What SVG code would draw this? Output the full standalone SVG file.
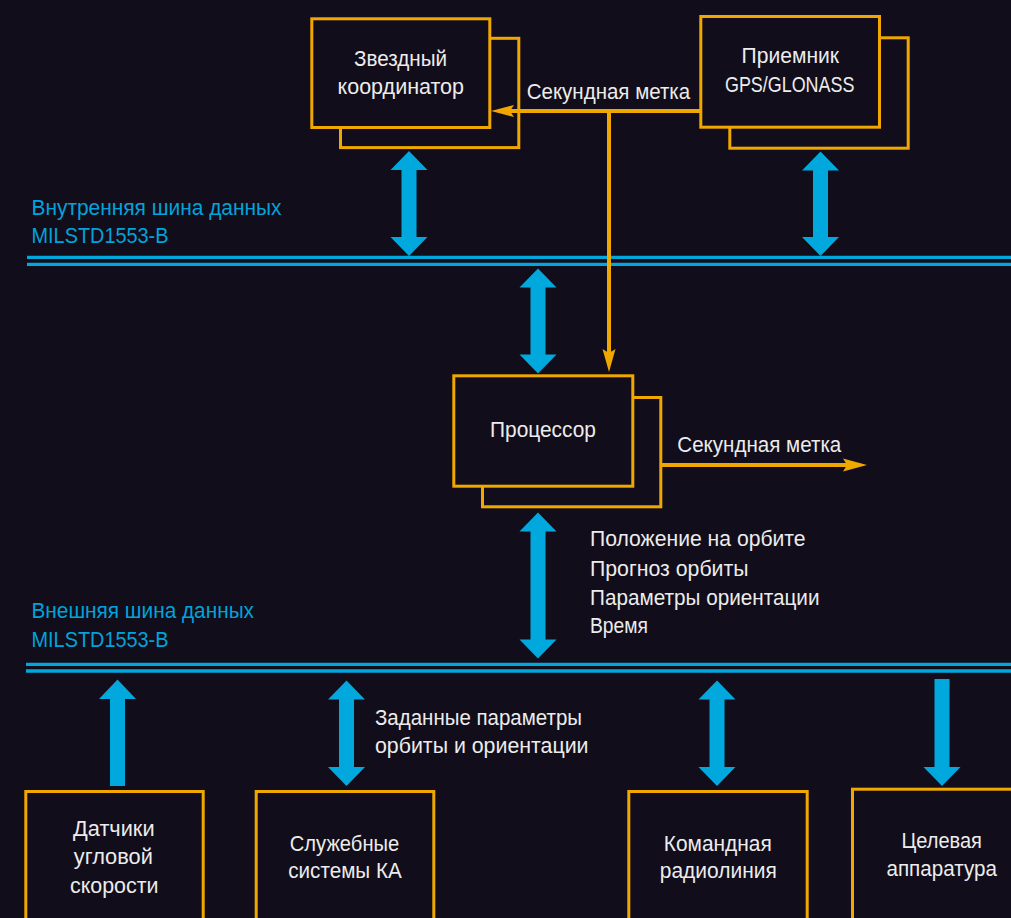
<svg xmlns="http://www.w3.org/2000/svg" width="1011" height="918" viewBox="0 0 1011 918">
<style>
  .bg{fill:#120d1a}
  .box{fill:#120d1a;stroke:#f0a800;stroke-width:3}
  .t{font-family:"Liberation Sans",Arial,sans-serif;font-size:22px;fill:#ececec}
  .m{text-anchor:middle}
  .bt{font-family:"Liberation Sans",Arial,sans-serif;font-size:22px;fill:#00a3db}
  .bus{stroke:#00a8de;stroke-width:3.4;fill:none}
  .ba{fill:#00a8de}
  .ol{stroke:#f0a800;stroke-width:4;fill:none}
  .oh{fill:#f0a800}
</style>
<rect class="bg" x="0" y="0" width="1011" height="918"/>

<g id="bus-internal">
  <line class="bus" x1="27" y1="257.4" x2="1011" y2="257.4"/>
  <line class="bus" x1="27" y1="264.4" x2="1011" y2="264.4"/>
  <text class="bt" x="31.5" y="215" textLength="250" lengthAdjust="spacingAndGlyphs">Внутренняя шина данных</text>
  <text class="bt" x="31.5" y="243.3" textLength="137" lengthAdjust="spacingAndGlyphs">MILSTD1553-B</text>
</g>

<g id="bus-external">
  <line class="bus" x1="26" y1="664.4" x2="1011" y2="664.4"/>
  <line class="bus" x1="26" y1="671" x2="1011" y2="671"/>
  <text class="bt" x="31.5" y="618.3" textLength="222.5" lengthAdjust="spacingAndGlyphs">Внешняя шина данных</text>
  <text class="bt" x="31.5" y="646.7" textLength="137" lengthAdjust="spacingAndGlyphs">MILSTD1553-B</text>
</g>

<g id="star-coordinator">
  <rect class="box" x="340.5" y="38.3" width="178.3" height="109.3"/>
  <rect class="box" x="311.8" y="18.8" width="178" height="108.7"/>
  <text class="t m" x="400.5" y="66" textLength="93" lengthAdjust="spacingAndGlyphs">Звездный</text>
  <text class="t m" x="400.8" y="94" textLength="126.5" lengthAdjust="spacingAndGlyphs">координатор</text>
</g>

<g id="gps-receiver">
  <rect class="box" x="729.8" y="37.8" width="178.4" height="110.4"/>
  <rect class="box" x="700.8" y="16.5" width="178.7" height="110.7"/>
  <text class="t m" x="790.3" y="63.3" textLength="97.5" lengthAdjust="spacingAndGlyphs">Приемник</text>
  <text class="t m" x="789.7" y="91.7" textLength="129.5" lengthAdjust="spacingAndGlyphs">GPS/GLONASS</text>
</g>

<g id="processor">
  <rect class="box" x="482.5" y="397.5" width="178.3" height="109.3"/>
  <rect class="box" x="453.8" y="375.8" width="179" height="110.4"/>
  <text class="t m" x="543" y="437.3" textLength="106" lengthAdjust="spacingAndGlyphs">Процессор</text>
</g>

<g id="angular-rate-sensors">
  <rect class="box" x="25.8" y="791.5" width="177.4" height="140"/>
  <text class="t m" x="113.8" y="836" textLength="81.5" lengthAdjust="spacingAndGlyphs">Датчики</text>
  <text class="t m" x="113.3" y="864" textLength="79" lengthAdjust="spacingAndGlyphs">угловой</text>
  <text class="t m" x="114.2" y="892.7" textLength="88.5" lengthAdjust="spacingAndGlyphs">скорости</text>
</g>

<g id="service-systems">
  <rect class="box" x="256.2" y="791.5" width="177.6" height="140"/>
  <text class="t m" x="344.5" y="850.7" textLength="109.5" lengthAdjust="spacingAndGlyphs">Служебные</text>
  <text class="t m" x="345" y="878.3" textLength="113.5" lengthAdjust="spacingAndGlyphs">системы КА</text>
</g>

<g id="command-radio">
  <rect class="box" x="628.8" y="791.5" width="178.4" height="140"/>
  <text class="t m" x="717.8" y="850.7" textLength="108" lengthAdjust="spacingAndGlyphs">Командная</text>
  <text class="t m" x="718.3" y="878.3" textLength="117" lengthAdjust="spacingAndGlyphs">радиолиния</text>
</g>

<g id="payload">
  <rect class="box" x="852.5" y="789.2" width="178.4" height="140"/>
  <text class="t m" x="941.7" y="848.3" textLength="80.5" lengthAdjust="spacingAndGlyphs">Целевая</text>
  <text class="t m" x="941.7" y="876" textLength="110.5" lengthAdjust="spacingAndGlyphs">аппаратура</text>
</g>

<g id="connectors">
  <line class="ol" x1="700" y1="111" x2="508" y2="111"/>
  <polygon class="oh" points="491,111 514,105 510,111 514,117"/>
  <line class="ol" x1="609" y1="109" x2="609" y2="354"/>
  <polygon class="oh" points="609,372 602.5,349 609,353 615.5,349"/>
  <line class="ol" x1="661" y1="465" x2="848" y2="465"/>
  <polygon class="oh" points="867,465 843,458.5 847,465 843,471.5"/>

  <polygon class="ba" points="409,151 427.5,170 416.5,170 416.5,237 427.5,237 409,256 390.5,237 401.5,237 401.5,170 390.5,170"/>
  <polygon class="ba" points="820.5,151.5 839,170.5 828,170.5 828,237 839,237 820.5,256 802,237 813,237 813,170.5 802,170.5"/>
  <polygon class="ba" points="538,268.5 556.5,287.5 545.5,287.5 545.5,354.5 556.5,354.5 538,373.5 519.5,354.5 530.5,354.5 530.5,287.5 519.5,287.5"/>
  <polygon class="ba" points="538,512.5 556.5,531.5 545.5,531.5 545.5,639.5 556.5,639.5 538,658.5 519.5,639.5 530.5,639.5 530.5,531.5 519.5,531.5"/>
  <polygon class="ba" points="117.5,679.5 136,699 125,699 125,786 110,786 110,699 99,699"/>
  <polygon class="ba" points="346.5,680.5 365,699.5 354,699.5 354,767 365,767 346.5,786 328,767 339,767 339,699.5 328,699.5"/>
  <polygon class="ba" points="717,680.5 735.5,699.5 724.5,699.5 724.5,767 735.5,767 717,786 698.5,767 709.5,767 709.5,699.5 698.5,699.5"/>
  <polygon class="ba" points="934.5,679 949.5,679 949.5,767 960.5,767 942,786 923.5,767 934.5,767"/>

  <text class="t" x="526.7" y="99.3" textLength="163.5" lengthAdjust="spacingAndGlyphs">Секундная метка</text>
  <text class="t" x="677.3" y="452.3" textLength="164" lengthAdjust="spacingAndGlyphs">Секундная метка</text>
  <text class="t" x="590" y="546" textLength="215.5" lengthAdjust="spacingAndGlyphs">Положение на орбите</text>
  <text class="t" x="590" y="576" textLength="158.5" lengthAdjust="spacingAndGlyphs">Прогноз орбиты</text>
  <text class="t" x="590" y="605" textLength="229.5" lengthAdjust="spacingAndGlyphs">Параметры ориентации</text>
  <text class="t" x="590" y="633.3" textLength="58" lengthAdjust="spacingAndGlyphs">Время</text>
  <text class="t" x="375" y="725" textLength="207" lengthAdjust="spacingAndGlyphs">Заданные параметры</text>
  <text class="t" x="375" y="753.3" textLength="213.5" lengthAdjust="spacingAndGlyphs">орбиты и ориентации</text>
</g>
</svg>
